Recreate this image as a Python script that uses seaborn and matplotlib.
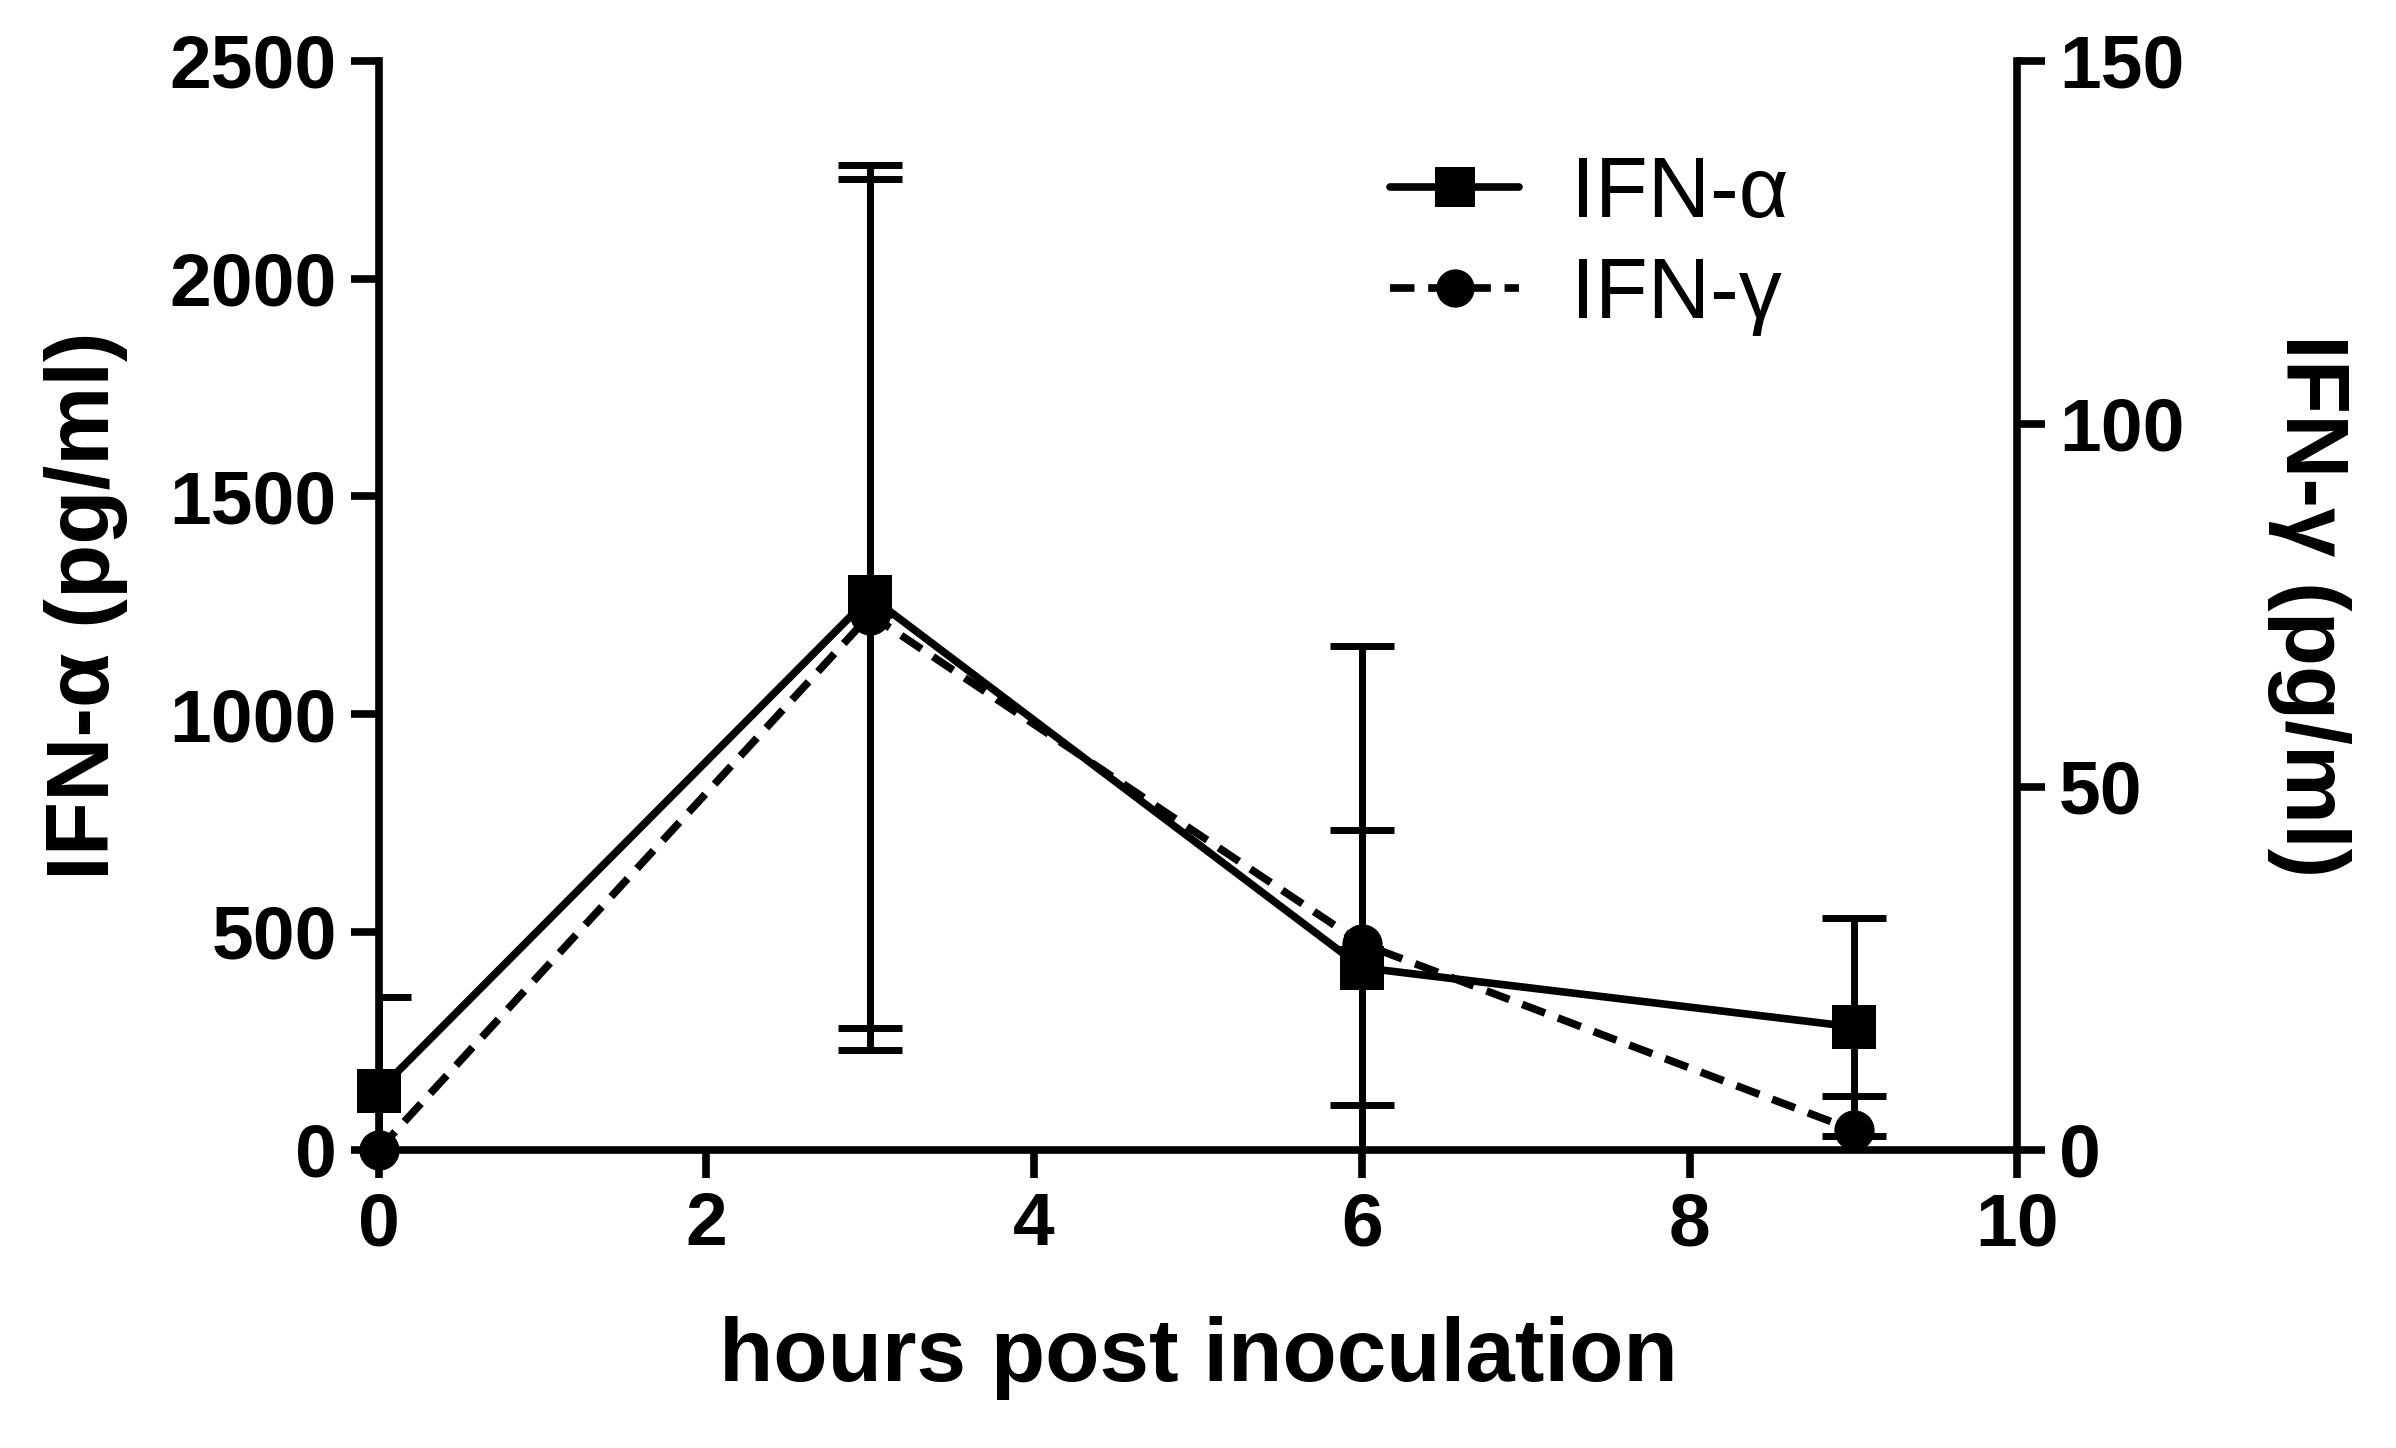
import pandas as pd
import numpy as np
import matplotlib.pyplot as plt
import seaborn as sns

sns.set_style("ticks")
plt.rcParams['font.family'] = ['Liberation Sans', 'DejaVu Sans']
plt.rcParams['text.color'] = 'black'
plt.rcParams['axes.labelcolor'] = 'black'
plt.rcParams['axes.edgecolor'] = 'black'
plt.rcParams['xtick.color'] = 'black'
plt.rcParams['ytick.color'] = 'black'

hours = [0, 3, 6, 9]
ifn_alpha = [135, 1270, 418, 282]
ifn_alpha_err = [215, 990, 315, 250]
ifn_gamma = [0, 73.7, 28.4, 2.7]
ifn_gamma_err = [0, 60, 41, 4.7]

x_ticks = [0, 2, 4, 6, 8, 10]
left_ticks = [0, 500, 1000, 1500, 2000, 2500]
right_ticks = [0, 50, 100, 150]

df = pd.DataFrame({'hours': hours, 'alpha': ifn_alpha, 'gamma': ifn_gamma})

LW = 5.5
fig = plt.figure(figsize=(23.96, 14.48), dpi=100)
ax = fig.add_axes([0.158, 0.206, 0.684, 0.752])
ax2 = ax.twinx()

# error bars, clipped at the axis like the original
ax.errorbar(hours, ifn_alpha, yerr=ifn_alpha_err, fmt='none', ecolor='black',
            elinewidth=5, capsize=23, capthick=5, zorder=2)
ax2.errorbar(hours, ifn_gamma, yerr=ifn_gamma_err, fmt='none', ecolor='black',
             elinewidth=5, capsize=23, capthick=5, zorder=2)

sns.lineplot(data=df, x='hours', y='alpha', ax=ax, color='black', marker='s',
             markersize=31, markeredgewidth=0, linewidth=LW, errorbar=None,
             clip_on=False, zorder=3)
sns.lineplot(data=df, x='hours', y='gamma', ax=ax2, color='black', marker='o',
             markersize=29, markeredgewidth=0, linewidth=LW, errorbar=None,
             linestyle=(0, (3.2, 1.8)), clip_on=False, zorder=3)

ax.set_xlim(0, 10)
ax.set_ylim(0, 2500)
ax2.set_ylim(0, 150)
ax.set_xticks(x_ticks)
ax.set_yticks(left_ticks)
ax2.set_yticks(right_ticks)

for a in (ax, ax2):
    for s in a.spines.values():
        s.set_linewidth(LW)
    a.spines['top'].set_visible(False)
    a.tick_params(width=LW, length=20, labelsize=54, pad=10)
    for lab in a.get_xticklabels() + a.get_yticklabels():
        lab.set_fontweight('bold')
ax.spines['right'].set_visible(False)
ax2.spines['left'].set_visible(False)
ax2.spines['bottom'].set_visible(False)

ax.set_xlabel('hours post inoculation', fontsize=64, fontweight='bold', labelpad=40)
ax.set_ylabel('IFN-α (pg/ml)', fontsize=64, fontweight='bold', labelpad=30)
ax2.set_ylabel('IFN-γ (pg/ml)', fontsize=64, fontweight='bold', rotation=270,
               labelpad=120)

h1 = ax.lines[-1]
h2 = ax2.lines[-1]
ax2.legend([h1, h2], ['IFN-α', 'IFN-γ'], loc='upper left',
           bbox_to_anchor=(0.57, 0.985), frameon=False, fontsize=62,
           handlelength=1.5, handletextpad=0.6, labelspacing=0.25,
           markerscale=0.95)

fig.savefig('out.png', dpi=100)
